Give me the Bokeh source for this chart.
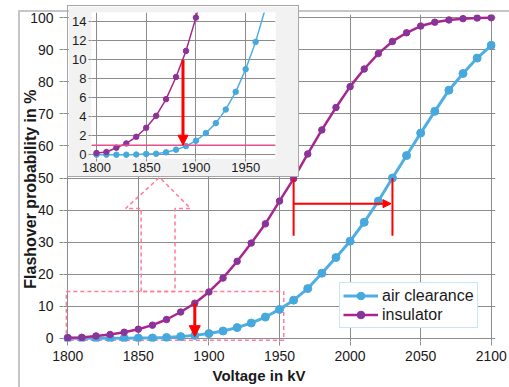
from bokeh.plotting import figure
from bokeh.models import (Range1d, FixedTicker, Legend, LegendItem, Arrow,
                          NormalHead, Span, Title, Div)
from bokeh.embed import file_html
from bokeh.resources import INLINE

# ---------------- data ----------------
voltage_kv = [1800, 1810, 1820, 1830, 1840, 1850, 1860, 1870, 1880, 1890, 1900,
              1910, 1920, 1930, 1940, 1950, 1960, 1970, 1980, 1990, 2000,
              2010, 2020, 2030, 2040, 2050, 2060, 2070, 2080, 2090, 2100]
air_clearance = [0.0, 0.0, 0.0, 0.0, 0.02, 0.08, 0.1, 0.25, 0.53, 0.91, 1.47,
                 2.28, 3.33, 4.77, 6.63, 9.02, 11.9, 15.5, 20.3, 25.2, 30.3,
                 36.2, 42.8, 50.0, 57.0, 64.0, 70.8, 77.4, 82.6, 87.4, 91.4]
insulator = [0.18, 0.28, 0.74, 1.19, 1.89, 2.84, 4.1, 5.86, 8.2, 10.95, 14.46,
             18.8, 24.0, 29.7, 35.7, 42.8, 49.8, 57.5, 65.0, 72.0, 78.5,
             84.0, 88.8, 92.6, 95.3, 97.4, 98.6, 99.3, 99.7, 99.9, 100.0]

x_ticks = [1800, 1850, 1900, 1950, 2000, 2050, 2100]
y_ticks = [0, 10, 20, 30, 40, 50, 60, 70, 80, 90, 100]
inset_x_ticks = [1800, 1850, 1900, 1950]
inset_y_ticks = [0, 2, 4, 6, 8, 10, 12, 14]

# annotation geometry (data units)
zoom_box = dict(left=1799, right=1953, bottom=-0.6, top=14.6)
block_arrow_x = [1852, 1852, 1841, 1865, 1887, 1876, 1876]
block_arrow_y = [14.6, 40.5, 40.5, 50.2, 40.5, 40.5, 14.6]
v50_insulator = 1960
v50_air = 2030
target_level = 1.0

FONT = "Liberation Sans"
AIR_COLOR = "#50afe2"
AIR_MARK = "#47a8dd"
INS_COLOR = "#a8268f"
INS_MARK = "#7b3a9c"
GRID = "#8c8c8c"
PINK = "#ff7c9c"
RED = "#ff0000"
TXT = "#1a1a1a"
NBSP = "\u00a0"

# ---------------- main chart ----------------
p = figure(width=508, height=386, x_range=Range1d(1797, 2103), y_range=Range1d(-1, 101),
           output_backend="svg", toolbar_location=None,
           min_border_left=63, min_border_right=13, min_border_top=14, min_border_bottom=45,
           background_fill_color="white", border_fill_color="white")
p.outline_line_color = None

p.xaxis.ticker = FixedTicker(ticks=x_ticks)
p.yaxis.ticker = FixedTicker(ticks=y_ticks)
for ax in (p.xaxis[0], p.yaxis[0]):
    ax.axis_line_color = None
    ax.major_tick_line_color = GRID
    ax.major_tick_out = 4
    ax.major_tick_in = 0
    ax.minor_tick_line_color = None
    ax.major_label_text_font = FONT
    ax.major_label_text_font_size = "14px"
    ax.major_label_text_color = TXT
p.xaxis.major_label_standoff = 5
p.yaxis.major_label_standoff = 6
# trailing no-break spaces nudge the rotated title down to where it sits in the original
p.yaxis.axis_label = "Flashover probability in %" + NBSP * 5
p.yaxis.axis_label_standoff = -12
p.yaxis.axis_label_text_font = FONT
p.yaxis.axis_label_text_font_size = "16px"
p.yaxis.axis_label_text_font_style = "bold"
p.yaxis.axis_label_text_color = TXT
p.grid.grid_line_color = GRID
p.grid.grid_line_width = 1

p.add_layout(Title(text="Voltage in kV", align="left", offset=149, standoff=2,
                   text_font=FONT, text_font_size="15px", text_font_style="bold",
                   text_color=TXT), "below")

# pink dashed zoom indicator
p.quad(fill_color=None, line_color=PINK, line_dash="4 3", line_width=1.5, **zoom_box)
p.patch(block_arrow_x, block_arrow_y, fill_alpha=0, line_color=PINK, line_dash="4 3", line_width=1.5)

air_line = p.line(voltage_kv, air_clearance, line_color=AIR_COLOR, line_width=3)
air_pts = p.scatter(voltage_kv, air_clearance, size=8, fill_color=AIR_MARK, line_color=AIR_MARK)
ins_line = p.line(voltage_kv, insulator, line_color=INS_COLOR, line_width=2.5)
ins_pts = p.scatter(voltage_kv, insulator, size=6.5, fill_color=INS_MARK, line_color=INS_COLOR)

# red annotations
i1890 = voltage_kv.index(1890)
p.add_layout(Arrow(x_start=1890, y_start=insulator[i1890], x_end=1890, y_end=air_clearance[i1890] - 0.4,
                   line_color=RED, line_width=3,
                   end=NormalHead(size=11, fill_color=RED, line_color=RED)))
p.segment(x0=[v50_insulator, v50_air], y0=[50, 50], x1=[v50_insulator, v50_air], y1=[32, 32],
          line_color=RED, line_width=2)
p.add_layout(Arrow(x_start=v50_insulator, y_start=42, x_end=v50_air - 1, y_end=42,
                   line_color=RED, line_width=2,
                   end=NormalHead(size=8, fill_color=RED, line_color=RED)))

legend = Legend(items=[LegendItem(label="air clearance", renderers=[air_line, air_pts]),
                       LegendItem(label="insulator", renderers=[ins_line, ins_pts])],
                location=(276, 13), orientation="vertical",
                label_text_font=FONT, label_text_font_size="16px", label_text_color=TXT,
                border_line_color="#8fd0ef", border_line_width=1.5,
                background_fill_color="white", background_fill_alpha=1,
                padding=3, spacing=0, margin=0, glyph_width=35, glyph_height=19,
                label_height=19, label_standoff=4)
p.add_layout(legend)

# ---------------- inset ----------------
ins = figure(width=230, height=170, x_range=Range1d(1795, 1980), y_range=Range1d(-0.4, 15),
             output_backend="svg", toolbar_location=None,
             min_border_left=23, min_border_right=23, min_border_top=6, min_border_bottom=18,
             background_fill_color="white", border_fill_color="#f2f2f2",
             styles={"position": "absolute", "left": "68px", "top": "6px",
                     "outline": "1.5px solid #a6a6a6", "z-index": "10"})
ins.outline_line_color = None
ins.xaxis.ticker = FixedTicker(ticks=inset_x_ticks)
ins.yaxis.ticker = FixedTicker(ticks=inset_y_ticks)
for ax in (ins.xaxis[0], ins.yaxis[0]):
    ax.axis_line_color = None
    ax.major_tick_line_color = GRID
    ax.major_tick_in = 0
    ax.minor_tick_line_color = None
    ax.major_label_text_font = FONT
    ax.major_label_text_font_size = "13px"
    ax.major_label_text_color = TXT
ins.xaxis.major_tick_out = 3
ins.xaxis.major_label_standoff = 1
ins.yaxis.major_tick_out = 3
ins.yaxis.major_label_standoff = 2
ins.grid.grid_line_color = GRID

ins.add_layout(Span(location=target_level, dimension="width", line_color="#e3508c", line_width=1.5))
ins.line(voltage_kv, air_clearance, line_color=AIR_COLOR, line_width=1.5)
ins.scatter(voltage_kv, air_clearance, size=5.5, fill_color=AIR_MARK, line_color=AIR_MARK)
ins.line(voltage_kv, insulator, line_color=INS_COLOR, line_width=1.5)
ins.scatter(voltage_kv, insulator, size=5.5, fill_color=INS_MARK, line_color=INS_COLOR)
ins.add_layout(Arrow(x_start=1887, y_start=10, x_end=1887, y_end=target_level,
                     line_color=RED, line_width=3,
                     end=NormalHead(size=10, fill_color=RED, line_color=RED)))

# outer chart-area border
frame_div = Div(text="", width=496, height=379,
                styles={"position": "absolute", "left": "13px", "top": "5px",
                        "box-sizing": "border-box", "border-left": "2px solid #c6c6c6",
                        "border-top": "2px solid #c6c6c6", "border-bottom": "2px solid #c6c6c6",
                        "pointer-events": "none", "z-index": "1"})

open("out.html", "w").write(file_html([p, ins, frame_div], INLINE))
